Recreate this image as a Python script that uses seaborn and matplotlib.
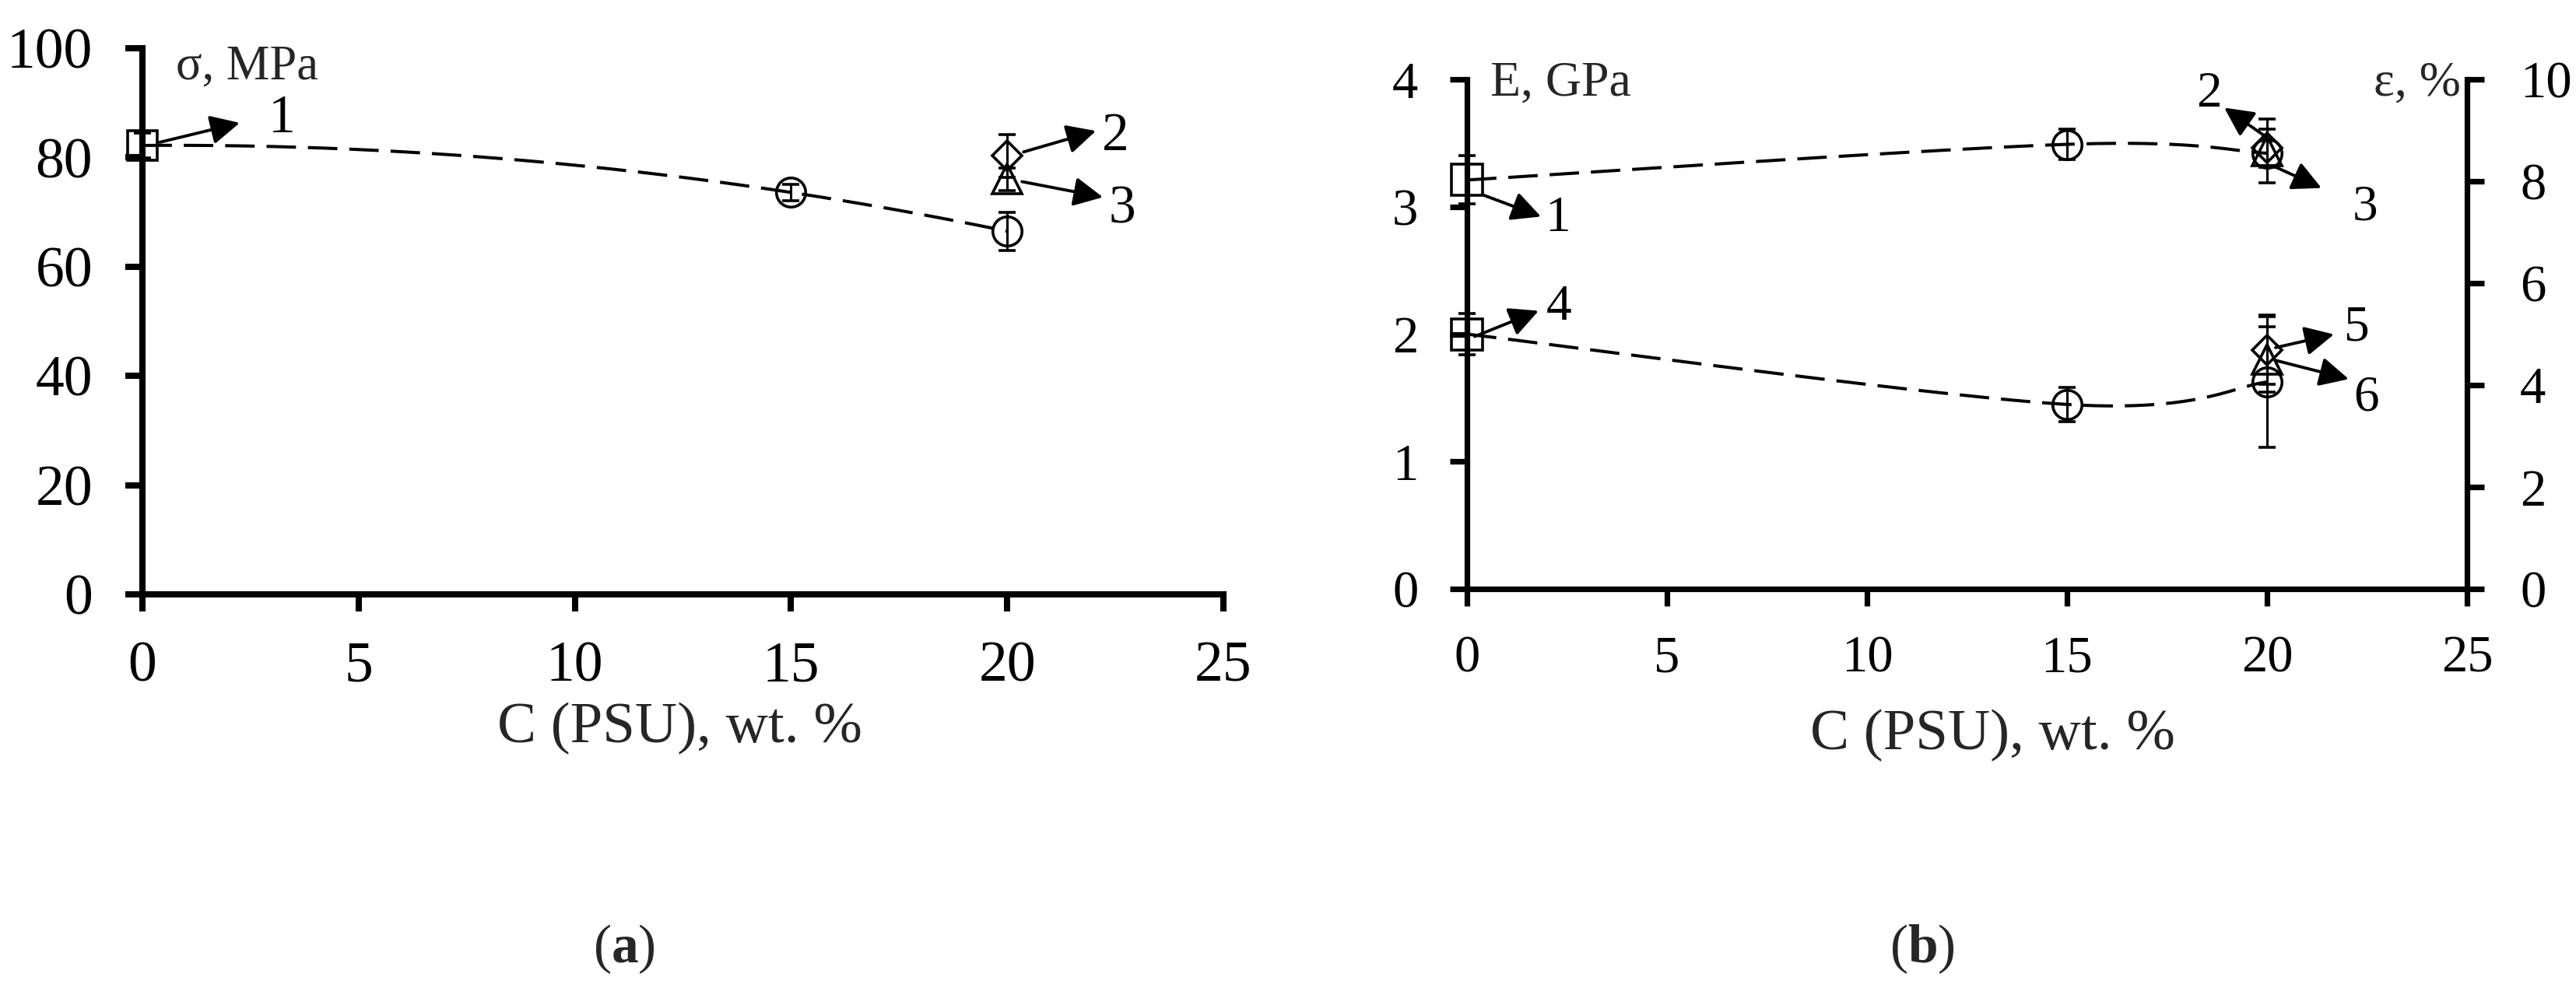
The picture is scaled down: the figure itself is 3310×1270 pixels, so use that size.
import numpy as np
import matplotlib
matplotlib.use("Agg")
import matplotlib.pyplot as plt
import seaborn as sns
from matplotlib.text import OffsetFrom

sns.set_theme(style="ticks")
plt.rcParams["font.family"] = ["Liberation Serif", "DejaVu Serif"]
plt.rcParams["mathtext.fontset"] = "custom"
plt.rcParams["mathtext.rm"] = "Liberation Serif"
plt.rcParams["mathtext.bf"] = "Liberation Serif:bold"

# ---------------- data ----------------
conc_ticks = [0, 5, 10, 15, 20, 25]
sigma_ticks = [0, 20, 40, 60, 80, 100]
E_ticks = [0, 1, 2, 3, 4]
eps_ticks = [0, 2, 4, 6, 8, 10]

pure_c = [0]
blend_c = [15, 20]
mod_c = [20]

# panel (a): tensile strength, MPa
sigma_pure = [82.2]
sigma_pure_err = [2.3]
sigma_blend = [73.6, 66.5]
sigma_blend_err = [1.5, 3.5]
sigma_mod2 = [80.3]
sigma_mod2_err = [3.9]
sigma_mod3 = [76.0]
sigma_mod3_err = [2.0]

# panel (b): elastic modulus, GPa
E_pure = [3.21]
E_pure_err = [0.19]
E_blend = [3.49, 3.42]
E_blend_err = [0.12, 0.10]
E_mod2 = [3.46]
E_mod2_err = [0.15]
E_mod3 = [3.44]
E_mod3_err = [0.25]

# panel (b): elongation at break, %
eps_pure = [5.0]
eps_pure_err = [0.4]
eps_blend = [3.62, 4.06]
eps_blend_err = [0.33, 1.28]
eps_mod5 = [4.69]
eps_mod5_err = [0.68]
eps_mod6 = [4.50]
eps_mod6_err = [0.64]

DPI = 100
fig = plt.figure(figsize=(33.10, 12.70), dpi=DPI)
W, H = 3310, 1270


def frac_axes(x0, x1, ytop, ybot):
    return fig.add_axes([x0 / W, 1 - ybot / H, (x1 - x0) / W, (ybot - ytop) / H])


axA = frac_axes(183, 1572, 62, 764)
axB = frac_axes(1885, 3170, 102, 757)
axB2 = axB.twinx()

for ax in (axA, axB, axB2):
    ax.set_facecolor("none")
    ax.grid(False)


def draw_points(ax, x, y, err, marker, ms):
    cont = ax.errorbar(x, y, yerr=err, fmt=marker, ms=ms, mfc="none",
                       mec="black", mew=2.6, ecolor="black", elinewidth=2.2,
                       capsize=8, capthick=3.5, zorder=4)
    data_line, caplines, barcols = cont.lines
    data_line.set_clip_on(False)
    for c in caplines:
        c.set_clip_on(False)
    for b in barcols:
        b.set_clip_on(False)


def smooth_curve(xs, ys, n=80):
    """Spreadsheet-style smoothed line: cubic Bezier segments (Catmull-Rom)."""
    P = np.column_stack([xs, ys]).astype(float)
    t = np.linspace(0, 1, n)[:, None]
    parts = []
    for i in range(len(P) - 1):
        p0 = P[i - 1] if i > 0 else P[i]
        p1, p2 = P[i], P[i + 1]
        p3 = P[i + 2] if i + 2 < len(P) else P[i + 1]
        c1 = p1 + (p2 - p0) / 6.0
        c2 = p2 - (p3 - p1) / 6.0
        seg = ((1 - t) ** 3) * p1 + 3 * ((1 - t) ** 2) * t * c1 \
            + 3 * (1 - t) * (t ** 2) * c2 + (t ** 3) * p2
        parts.append(seg if i == 0 else seg[1:])
    return np.vstack(parts)


def poly_curve(xs, ys, n=300):
    coeffs = np.polyfit(xs, ys, 2)
    xx = np.linspace(min(xs), max(xs), n)
    return np.column_stack([xx, np.polyval(coeffs, xx)])


def trend(ax, xs, ys, kind):
    curve = poly_curve(xs, ys) if kind == "poly" else smooth_curve(xs, ys)
    sns.lineplot(x=curve[:, 0], y=curve[:, 1], ax=ax, color="black",
                 linewidth=2.9, legend=False, sort=False, estimator=None,
                 zorder=3)
    ln = ax.lines[-1]
    ln.set_dashes([9.4, 3.8])
    ln.set_clip_on(False)


ARROW = dict(arrowstyle="-|>", color="black", lw=2.8, mutation_scale=57,
             shrinkA=0, shrinkB=0)


def callout(ax, label, anchor, tail, tip, txt, fs):
    ax.annotate("", xy=tip, xycoords=OffsetFrom(ax.transData, anchor, unit="pixels"),
                xytext=tail, textcoords=OffsetFrom(ax.transData, anchor, unit="pixels"),
                arrowprops=ARROW, annotation_clip=False, zorder=5)
    ax.annotate(label, xy=anchor, xycoords="data", xytext=txt,
                textcoords="offset pixels", ha="center", va="center",
                fontsize=fs, color="black", annotation_clip=False)


# ---------------- panel (a) ----------------
trend(axA, pure_c + blend_c, sigma_pure + sigma_blend, "poly")
draw_points(axA, pure_c, sigma_pure, sigma_pure_err, "s", 27)
draw_points(axA, blend_c, sigma_blend, sigma_blend_err, "o", 27)
draw_points(axA, mod_c, sigma_mod2, sigma_mod2_err, "D", 19.5)
draw_points(axA, mod_c, sigma_mod3, sigma_mod3_err, "^", 27)

axA.set_xlim(0, 25)
axA.set_ylim(0, 100)
axA.set_xticks(conc_ticks)
axA.set_yticks(sigma_ticks)
sns.despine(ax=axA)
for s in ("left", "bottom"):
    axA.spines[s].set_linewidth(5.8)
    axA.spines[s].set_color("black")
axA.tick_params(direction="out", length=16, width=5.8, labelsize=53,
                colors="black")
axA.tick_params(axis="y", pad=30)
axA.tick_params(axis="x", pad=27)
axA.text(0.031, 0.943, "σ, MPa", transform=axA.transAxes, fontsize=45,
         ha="left", va="baseline")
axA.set_xlabel("C (PSU), wt. %", fontsize=54, va="center")
axA.xaxis.set_label_coords(0.497, -0.245)

fs_a = 50
callout(axA, "1", (pure_c[0], sigma_pure[0]), (22, 4), (125, 29), (179, 34), fs_a)
callout(axA, "2", (mod_c[0], sigma_mod2[0]), (21, 5), (114, 32), (139, 24), fs_a)
callout(axA, "3", (mod_c[0], sigma_mod3[0]), (19, -3), (123, -23), (148, -39), fs_a)

# ---------------- panel (b) ----------------
trend(axB, pure_c + blend_c, E_pure + E_blend, "smooth")
draw_points(axB, pure_c, E_pure, E_pure_err, "s", 29)
draw_points(axB, blend_c, E_blend, E_blend_err, "o", 27)
draw_points(axB, mod_c, E_mod2, E_mod2_err, "D", 19.5)
draw_points(axB, mod_c, E_mod3, E_mod3_err, "^", 27)

trend(axB2, pure_c + blend_c, eps_pure + eps_blend, "smooth")
draw_points(axB2, pure_c, eps_pure, eps_pure_err, "s", 29)
draw_points(axB2, blend_c, eps_blend, eps_blend_err, "o", 27)
draw_points(axB2, mod_c, eps_mod5, eps_mod5_err, "D", 19.5)
draw_points(axB2, mod_c, eps_mod6, eps_mod6_err, "^", 27)

axB.set_xlim(0, 25)
axB.set_ylim(0, 4)
axB2.set_ylim(0, 10)
axB.set_xticks(conc_ticks)
axB.set_yticks(E_ticks)
axB2.set_yticks(eps_ticks)
for ax in (axB, axB2):
    ax.spines["top"].set_visible(False)
    for s in ("left", "bottom", "right"):
        ax.spines[s].set_linewidth(5.2)
        ax.spines[s].set_color("black")
axB.spines["right"].set_visible(False)
axB2.spines["left"].set_visible(False)
axB2.spines["bottom"].set_visible(False)
axB.tick_params(direction="out", length=16, width=5.2, labelsize=48,
                colors="black")
axB.tick_params(axis="y", pad=29)
axB.tick_params(axis="x", pad=27)
axB2.tick_params(direction="out", length=16, width=5.2, labelsize=48,
                 colors="black", pad=33)
axB.text(0.023, 0.969, "E, GPa", transform=axB.transAxes, fontsize=46,
         ha="left", va="baseline")
axB.text(0.9938, 0.968, "ε, %", transform=axB.transAxes, fontsize=46,
         ha="right", va="baseline")
axB.set_xlabel("C (PSU), wt. %", fontsize=54, va="center")
axB.xaxis.set_label_coords(0.526, -0.287)

fs_b = 47
callout(axB, "1", (pure_c[0], E_pure[0]), (20, -19), (95, -47), (117, -50), fs_b)
callout(axB, "2", (mod_c[0], E_mod2[0]), (-2, 15), (-55, 52), (-75, 69), fs_b)
callout(axB, "3", (mod_c[0], E_mod3[0]), (11, -21), (70, -48), (126, -73), fs_b)
callout(axB2, "4", (pure_c[0], eps_pure[0]), (10, -3), (92, 30), (118, 34), fs_b)
callout(axB2, "5", (mod_c[0], eps_mod5[0]), (11, 3), (86, 20), (115, 28), fs_b)
callout(axB2, "6", (mod_c[0], eps_mod6[0]), (11, -1), (105, -25), (128, -49), fs_b)

# ---------------- panel captions ----------------
fig.text(802 / W, 1 - 1220 / H, r"($\mathbf{a}$)", fontsize=50, ha="center", va="center")
fig.text(2470 / W, 1 - 1220 / H, r"($\mathbf{b}$)", fontsize=50, ha="center", va="center")

fig.savefig("out.png", dpi=DPI, facecolor="white")
